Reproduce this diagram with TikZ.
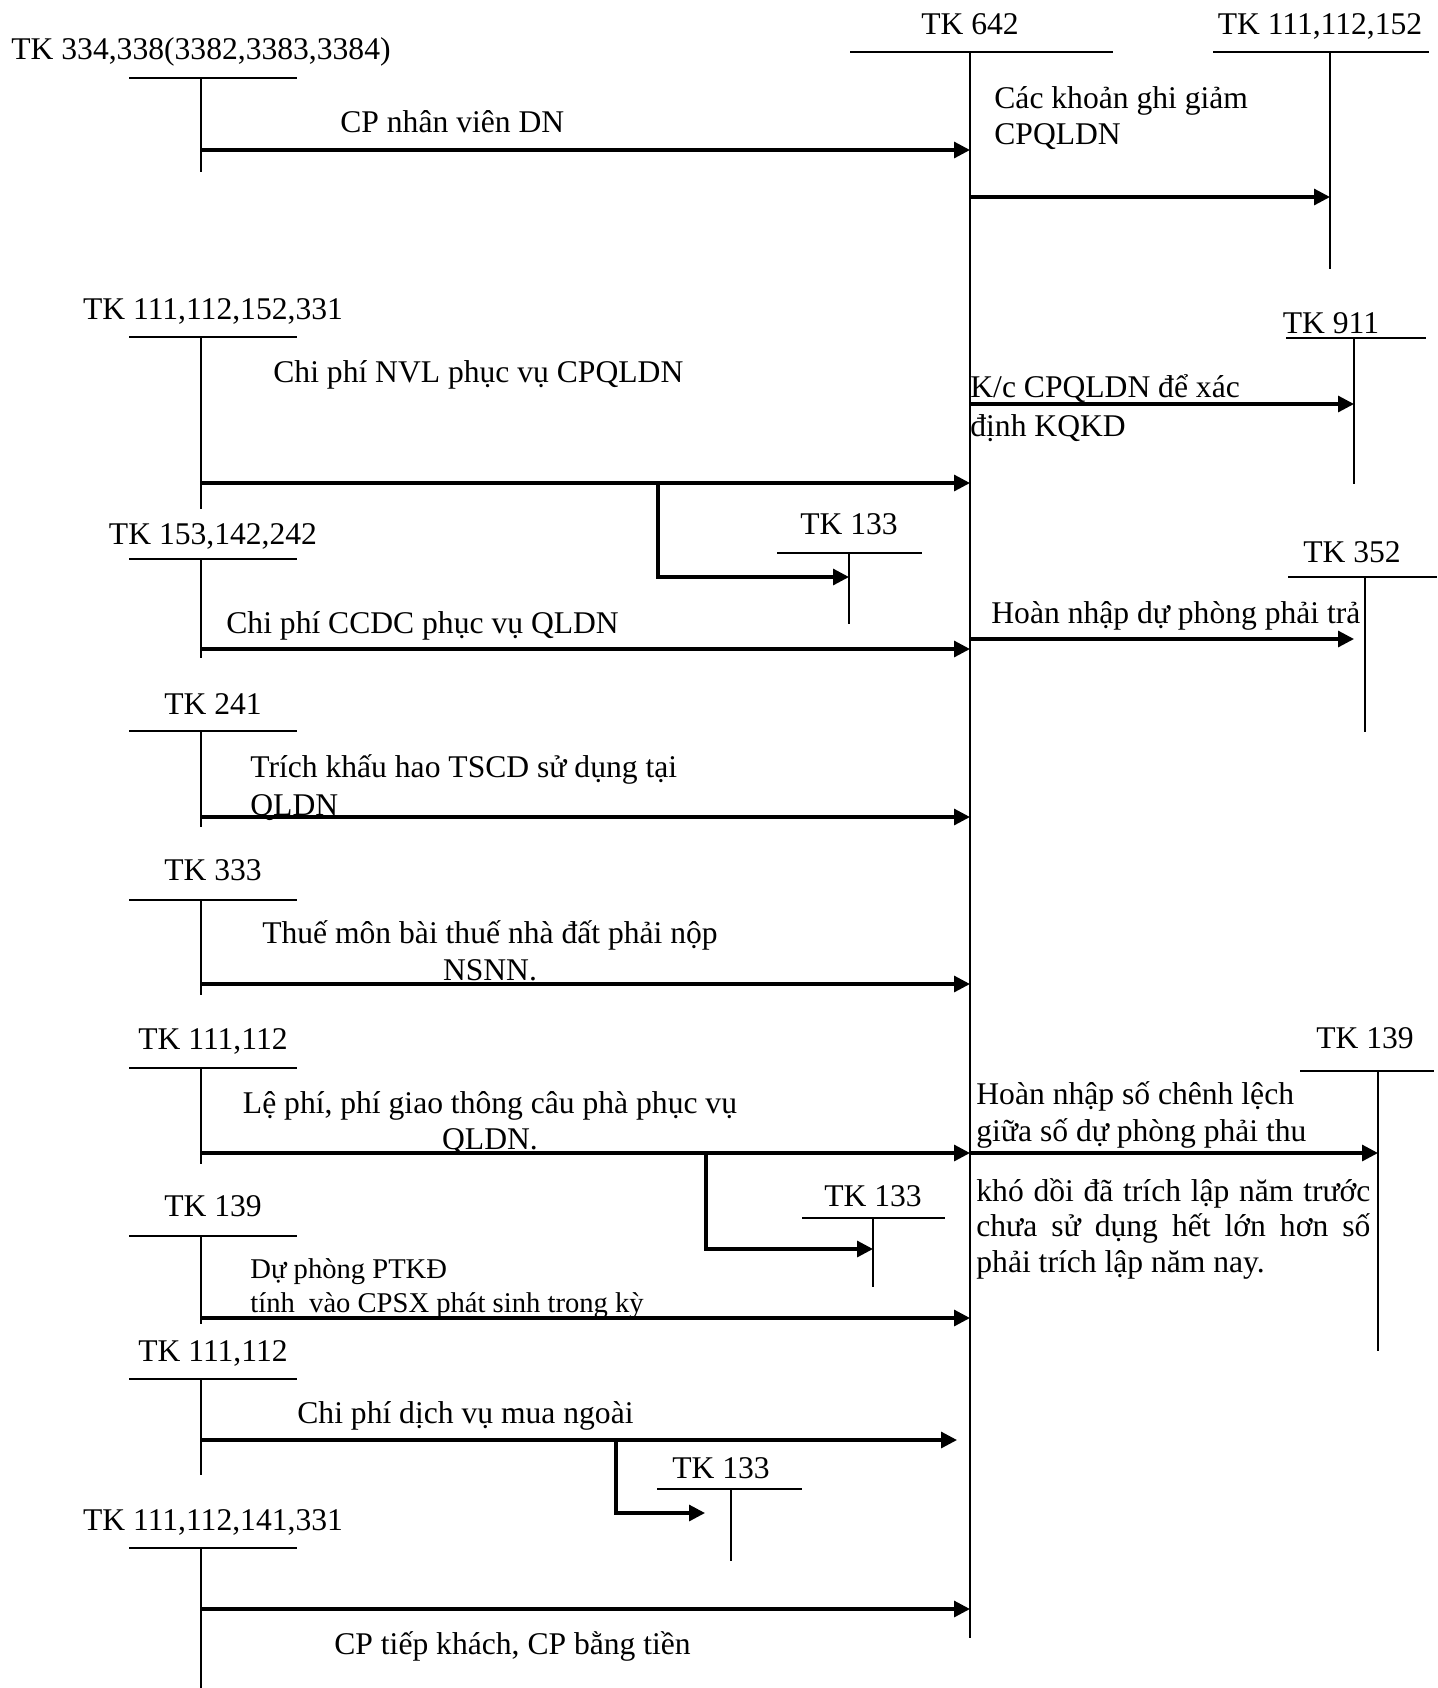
\documentclass[tikz,border=0pt]{standalone}
\usepackage{fontspec}
\setmainfont{Liberation Serif}
\usetikzlibrary{arrows.meta}
\newcommand\LeftTK[5]{%
  \node[lbl,anchor=base] (#1) at (213,#3) {#2};
  \coordinate (#1L) at (129,#4); \coordinate (#1R) at (297,#4);
  \coordinate (#1T) at (201,#4); \coordinate (#1B) at (201,#5);
  \draw[tline] (#1L) -- (#1R);
  \draw[vline] (#1T) -- (#1B);}
\begin{document}
\begin{tikzpicture}[x=0.5pt,y=-0.5pt,
  tline/.style={line width=1pt},
  vline/.style={line width=0.75pt},
  flow/.style={line width=1.6pt,-{Triangle[length=8pt,width=8pt]}},
  lbl/.style={inner sep=0pt,font=\fontsize{15.8}{18}\selectfont},
  small/.style={inner sep=0pt,font=\fontsize{14.3}{16}\selectfont}]
\useasboundingbox (0,0) rectangle (1437,1688);

% ---- TK 642 (main)
\node[lbl,anchor=base] (t642) at (970,34) {TK 642};
\coordinate (m642L) at (850,51.7); \coordinate (m642R) at (1113,51.7);
\coordinate (m642T) at (970,51.7); \coordinate (m642B) at (970,1638);
\draw[tline] (m642L) -- (m642R);
\draw[vline] (m642T) -- (m642B);

% ---- right accounts
\node[lbl,anchor=base] (r1) at (1320,34) {TK 111,112,152};
\coordinate (r1L) at (1213,51.7); \coordinate (r1R) at (1429,51.7);
\coordinate (r1T) at (1330,51.7); \coordinate (r1B) at (1330,269);
\draw[tline] (r1L) -- (r1R); \draw[vline] (r1T) -- (r1B);

\node[lbl,anchor=base] (r2) at (1331,333) {TK 911};
\coordinate (r2L) at (1286,338); \coordinate (r2R) at (1426,338);
\coordinate (r2T) at (1354,338); \coordinate (r2B) at (1354,484);
\draw[tline] (r2L) -- (r2R); \draw[vline] (r2T) -- (r2B);

\node[lbl,anchor=base] (r3) at (1352,562) {TK 352};
\coordinate (r3L) at (1288,577); \coordinate (r3R) at (1437,577);
\coordinate (r3T) at (1365,577); \coordinate (r3B) at (1365,732);
\draw[tline] (r3L) -- (r3R); \draw[vline] (r3T) -- (r3B);

\node[lbl,anchor=base] (r4) at (1365,1048) {TK 139};
\coordinate (r4L) at (1300,1071); \coordinate (r4R) at (1434,1071);
\coordinate (r4T) at (1378,1071); \coordinate (r4B) at (1378,1351);
\draw[tline] (r4L) -- (r4R); \draw[vline] (r4T) -- (r4B);

% right arrows
\coordinate (ra1s) at (970,197); \coordinate (ra1e) at (1330,197);
\draw[flow] (ra1s) -- (ra1e);
\node[lbl,anchor=base west] (ra1t1) at (994,108) {Các khoản ghi giảm};
\node[lbl,anchor=base west] (ra1t2) at (994,144) {CPQLDN};

\coordinate (ra2s) at (970,404); \coordinate (ra2e) at (1354,404);
\draw[flow] (ra2s) -- (ra2e);
\node[lbl,anchor=base west] (ra2t1) at (970,397) {K/c CPQLDN để xác};
\node[lbl,anchor=base west] (ra2t2) at (970,436) {định KQKD};

\coordinate (ra3s) at (970,639); \coordinate (ra3e) at (1354,639);
\draw[flow] (ra3s) -- (ra3e);
\node[lbl,anchor=base west] (ra3t) at (991,623) {Hoàn nhập dự phòng phải trả};

\coordinate (ra4s) at (970,1153); \coordinate (ra4e) at (1378,1153);
\draw[flow] (ra4s) -- (ra4e);
\node[lbl,anchor=base west] (ra4t1) at (976,1104) {Hoàn nhập số chênh lệch};
\node[lbl,anchor=base west] (ra4t2) at (976,1141) {giữa số dự phòng phải thu};
\node[lbl,anchor=base west] (ra4t3) at (976,1201) {\makebox[197pt][s]{khó dồi đã trích lập năm trước}};
\node[lbl,anchor=base west] (ra4t4) at (976,1236) {\makebox[197pt][s]{chưa sử dụng hết lớn hơn số}};
\node[lbl,anchor=base west] (ra4t5) at (976,1272) {phải trích lập năm nay.};

% ---- left accounts
\node[lbl,anchor=base] (l1) at (201,59) {TK 334,338(3382,3383,3384)};
\coordinate (l1L) at (129,77.5); \coordinate (l1R) at (297,77.5);
\coordinate (l1T) at (201,77.5); \coordinate (l1B) at (201,172);
\draw[tline] (l1L) -- (l1R); \draw[vline] (l1T) -- (l1B);

\LeftTK{l2}{TK 111,112,152,331}{319}{337}{509}
\LeftTK{l3}{TK 153,142,242}{544}{559}{658}
\LeftTK{l4}{TK 241}{714}{731}{827}
\LeftTK{l5}{TK 333}{880}{900}{995}
\LeftTK{l6}{TK 111,112}{1049}{1068}{1164}
\LeftTK{l7}{TK 139}{1216}{1236}{1324}
\LeftTK{l8}{TK 111,112}{1361}{1379}{1475}
\LeftTK{l9}{TK 111,112,141,331}{1530}{1548}{1688}

% left arrows
\coordinate (la1s) at (201,150); \coordinate (la1e) at (970,150);
\draw[flow] (la1s) -- (la1e);
\node[lbl,anchor=base west] (la1t) at (340,132) {CP nhân viên DN};

\coordinate (la2s) at (201,483); \coordinate (la2e) at (970,483);
\draw[flow] (la2s) -- (la2e);
\node[lbl,anchor=base west] (la2t) at (273,382) {Chi phí NVL phục vụ CPQLDN};

\coordinate (la3s) at (201,649); \coordinate (la3e) at (970,649);
\draw[flow] (la3s) -- (la3e);
\node[lbl,anchor=base west] (la3t) at (226,633) {Chi phí CCDC phục vụ QLDN};

\coordinate (la4s) at (201,817); \coordinate (la4e) at (970,817);
\draw[flow] (la4s) -- (la4e);
\node[lbl,anchor=base west] (la4t1) at (250,777) {Trích khấu hao TSCD sử dụng tại};
\node[lbl,anchor=base west] (la4t2) at (250,815) {QLDN};

\coordinate (la5s) at (201,984); \coordinate (la5e) at (970,984);
\draw[flow] (la5s) -- (la5e);
\node[lbl,anchor=base] (la5t1) at (490,943) {Thuế môn bài thuế nhà đất phải nộp};
\node[lbl,anchor=base] (la5t2) at (490,980) {NSNN.};

\coordinate (la6s) at (201,1153); \coordinate (la6e) at (970,1153);
\draw[flow] (la6s) -- (la6e);
\node[lbl,anchor=base] (la6t1) at (490,1113) {Lệ phí, phí giao thông câu phà phục vụ};
\node[lbl,anchor=base] (la6t2) at (490,1149) {QLDN.};

\coordinate (la7s) at (201,1318); \coordinate (la7e) at (970,1318);
\draw[flow] (la7s) -- (la7e);
\node[small,anchor=base west] (la7t1) at (250,1278) {Dự phòng PTKĐ};
\node[small,anchor=base west] (la7t2) at (250,1312) {tính\ \ vào CPSX phát sinh trong kỳ};

\coordinate (la8s) at (201,1440); \coordinate (la8e) at (957,1440);
\draw[flow] (la8s) -- (la8e);
\node[lbl,anchor=base west] (la8t) at (297,1423) {Chi phí dịch vụ mua ngoài};

\coordinate (la9s) at (201,1609); \coordinate (la9e) at (970,1609);
\draw[flow] (la9s) -- (la9e);
\node[lbl,anchor=base west] (la9t) at (334,1654) {CP tiếp khách, CP bằng tiền};

% ---- TK 133 branches
\node[lbl,anchor=base] (v1) at (849,534) {TK 133};
\coordinate (v1L) at (777,553); \coordinate (v1R) at (922,553);
\coordinate (v1T) at (849,553); \coordinate (v1B) at (849,624);
\draw[tline] (v1L) -- (v1R); \draw[vline] (v1T) -- (v1B);
\coordinate (b1s) at (658,483); \coordinate (b1e) at (849,577);
\draw[flow] (b1s) |- (b1e);

\node[lbl,anchor=base] (v2) at (873,1206) {TK 133};
\coordinate (v2L) at (802,1218); \coordinate (v2R) at (945,1218);
\coordinate (v2T) at (873,1218); \coordinate (v2B) at (873,1287);
\draw[tline] (v2L) -- (v2R); \draw[vline] (v2T) -- (v2B);
\coordinate (b2s) at (706,1153); \coordinate (b2e) at (873,1249);
\draw[flow] (b2s) |- (b2e);

\node[lbl,anchor=base] (v3) at (721,1478) {TK 133};
\coordinate (v3L) at (657,1489); \coordinate (v3R) at (802,1489);
\coordinate (v3T) at (731,1489); \coordinate (v3B) at (731,1561);
\draw[tline] (v3L) -- (v3R); \draw[vline] (v3T) -- (v3B);
\coordinate (b3s) at (616,1440); \coordinate (b3e) at (705,1513);
\draw[flow] (b3s) |- (b3e);
\end{tikzpicture}
\end{document}
